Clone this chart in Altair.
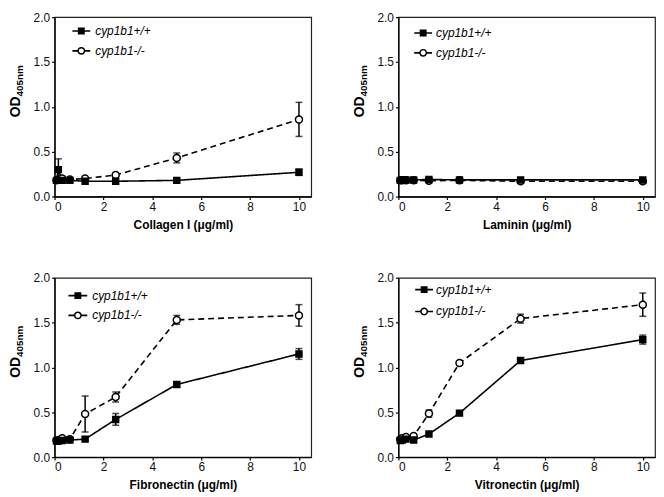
import altair as alt
import pandas as pd

# ---- data ----
dose = [0.078, 0.156, 0.3125, 0.625, 1.25, 2.5, 5, 10]
genotypes = ["cyp1b1+/+", "cyp1b1-/-"]

collagen_wt = [0.18, 0.30, 0.18, 0.18, 0.17, 0.17, 0.18, 0.27]
collagen_wt_err = [0.01, 0.12, 0.01, 0.01, 0.01, 0.01, 0.01, 0.035]
collagen_ko = [0.18, 0.19, 0.20, 0.19, 0.20, 0.24, 0.43, 0.86]
collagen_ko_err = [0.01, 0.01, 0.01, 0.01, 0.01, 0.02, 0.055, 0.19]

laminin_wt = [0.18, 0.185, 0.185, 0.185, 0.19, 0.185, 0.185, 0.185]
laminin_wt_err = [0.01, 0.01, 0.01, 0.01, 0.02, 0.01, 0.01, 0.01]
laminin_ko = [0.18, 0.18, 0.18, 0.18, 0.175, 0.18, 0.17, 0.17]
laminin_ko_err = [0.01, 0.01, 0.01, 0.01, 0.01, 0.01, 0.01, 0.01]

fibronectin_wt = [0.18, 0.18, 0.185, 0.19, 0.20, 0.42, 0.81, 1.15]
fibronectin_wt_err = [0.01, 0.01, 0.01, 0.01, 0.01, 0.065, 0.03, 0.06]
fibronectin_ko = [0.185, 0.19, 0.21, 0.20, 0.48, 0.67, 1.53, 1.58]
fibronectin_ko_err = [0.01, 0.01, 0.01, 0.01, 0.20, 0.055, 0.05, 0.12]

vitronectin_wt = [0.185, 0.19, 0.20, 0.19, 0.257, 0.49, 1.077, 1.31]
vitronectin_wt_err = [0.01, 0.01, 0.01, 0.01, 0.01, 0.015, 0.03, 0.05]
vitronectin_ko = [0.20, 0.21, 0.225, 0.235, 0.485, 1.05, 1.544, 1.70]
vitronectin_ko_err = [0.01, 0.01, 0.01, 0.01, 0.04, 0.02, 0.05, 0.13]

x_titles = ["Collagen I (\u03bcg/ml)", "Laminin (\u03bcg/ml)",
            "Fibronectin (\u03bcg/ml)", "Vitronectin (\u03bcg/ml)"]
y_title_main = "OD"
y_title_sub = "405nm"
x_ticks = [0, 2, 4, 6, 8, 10]
y_ticks = [0, 0.5, 1.0, 1.5, 2.0]

W, H = 259, 181
FONT = "Liberation Sans"


def panel(title, wt, wt_err, ko, ko_err, leg):
    rows = []
    for g, vals, errs in [(genotypes[1], ko, ko_err), (genotypes[0], wt, wt_err)]:
        for d, v, e in zip(dose, vals, errs):
            rows.append({"dose": d, "od": v, "err": e, "lo": v - e, "hi": v + e,
                         "genotype": g})
    df = pd.DataFrame(rows)
    base = alt.Chart(df)
    x = alt.X("dose:Q", scale=alt.Scale(domain=[0, 10.5], nice=False, zero=False),
              axis=alt.Axis(values=x_ticks, format="d", title=title))
    y = alt.Y("od:Q", scale=alt.Scale(domain=[0, 2], nice=False),
              axis=alt.Axis(values=y_ticks, format=".1f", title=None))

    lines = base.mark_line(strokeWidth=1.6, color="black").encode(
        x=x, y=y,
        strokeDash=alt.StrokeDash("genotype:N",
                                  scale=alt.Scale(domain=genotypes, range=[[1, 0], [6, 4]]),
                                  legend=None),
    )
    eb = base.transform_filter("datum.err >= 0.02")
    err = eb.mark_rule(strokeWidth=1.5, color="black").encode(
        x="dose:Q", y="lo:Q", y2="hi:Q")
    cap_hi = eb.mark_tick(orient="horizontal", size=7, thickness=1.5, color="black").encode(
        x="dose:Q", y="hi:Q")
    cap_lo = eb.mark_tick(orient="horizontal", size=7, thickness=1.5, color="black").encode(
        x="dose:Q", y="lo:Q")
    pts = base.mark_point(filled=True, stroke="black", strokeWidth=1.5, opacity=1).encode(
        x=x, y=y,
        shape=alt.Shape("genotype:N", scale=alt.Scale(domain=genotypes, range=["square", "circle"]),
                        legend=None),
        fill=alt.Fill("genotype:N", scale=alt.Scale(domain=genotypes, range=["black", "white"]),
                      legend=None),
        size=alt.Size("genotype:N", scale=alt.Scale(domain=genotypes, range=[36, 50]),
                      legend=None),
    )

    # y-axis title with subscript
    ytm = alt.Chart(pd.DataFrame({"t": [y_title_main]})).mark_text(
        angle=270, align="left", baseline="alphabetic", font=FONT, fontSize=14,
        fontWeight="bold", color="black").encode(
        text="t:N", x=alt.value(-35), y=alt.value(101))
    yts = alt.Chart(pd.DataFrame({"t": [y_title_sub]})).mark_text(
        angle=270, align="left", baseline="alphabetic", font=FONT, fontSize=10,
        fontWeight="bold", color="black").encode(
        text="t:N", x=alt.value(-32), y=alt.value(80))

    # legend
    lx0, lx1, tx, r1, r2 = leg
    mx = (lx0 + lx1) / 2
    legend_layers = []
    for g, ry, dash, shape, fill, size in [
        (genotypes[0], r1, [1, 0], "square", "black", 30),
        (genotypes[1], r2, [1, 0], "circle", "white", 42),
    ]:
        ld = pd.DataFrame({"label": [g]})
        c = alt.Chart(ld)
        legend_layers.append(c.mark_rule(strokeWidth=1.6, color="black", strokeDash=dash).encode(
            x=alt.value(lx0), x2=alt.value(lx1), y=alt.value(ry)))
        legend_layers.append(c.mark_point(shape=shape, filled=True, fill=fill, stroke="black",
                                          strokeWidth=1.5, size=size, opacity=1).encode(
            x=alt.value(mx), y=alt.value(ry)))
        legend_layers.append(c.mark_text(align="left", baseline="middle", font=FONT, fontSize=12,
                                         fontStyle="italic", color="black").encode(
            text="label:N", x=alt.value(tx), y=alt.value(ry)))

    return alt.layer(lines, err, cap_hi, cap_lo, pts, ytm, yts, *legend_layers).properties(
        width=W, height=H)


p1 = panel(x_titles[0], collagen_wt, collagen_wt_err, collagen_ko, collagen_ko_err,
           (18, 36, 41, 14, 34))
p2 = panel(x_titles[1], laminin_wt, laminin_wt_err, laminin_ko, laminin_ko_err,
           (16, 34, 38, 16, 36))
p3 = panel(x_titles[2], fibronectin_wt, fibronectin_wt_err, fibronectin_ko, fibronectin_ko_err,
           (14, 33, 38, 18, 38))
p4 = panel(x_titles[3], vitronectin_wt, vitronectin_wt_err, vitronectin_ko, vitronectin_ko_err,
           (17, 35, 38, 12, 34))

chart = alt.vconcat(
    alt.hconcat(p1, p2, spacing=40),
    alt.hconcat(p3, p4, spacing=40),
    spacing=40,
).properties(
    padding={"left": 0, "top": 0, "right": 0, "bottom": 0}
).configure(
    font=FONT,
).configure_view(
    stroke="#222222", strokeWidth=1.2,
).configure_axis(
    grid=False,
    labelFont=FONT, labelFontSize=12, labelColor="#111111",
    titleFont=FONT, titleFontSize=12, titleFontWeight="bold", titleColor="black",
    domainColor="black", domainWidth=1.3, tickColor="black", tickSize=3, tickWidth=1.2,
    labelPadding=2, titlePadding=7,
)

chart.save("out.html", embed_options={"renderer": "svg", "actions": False})
